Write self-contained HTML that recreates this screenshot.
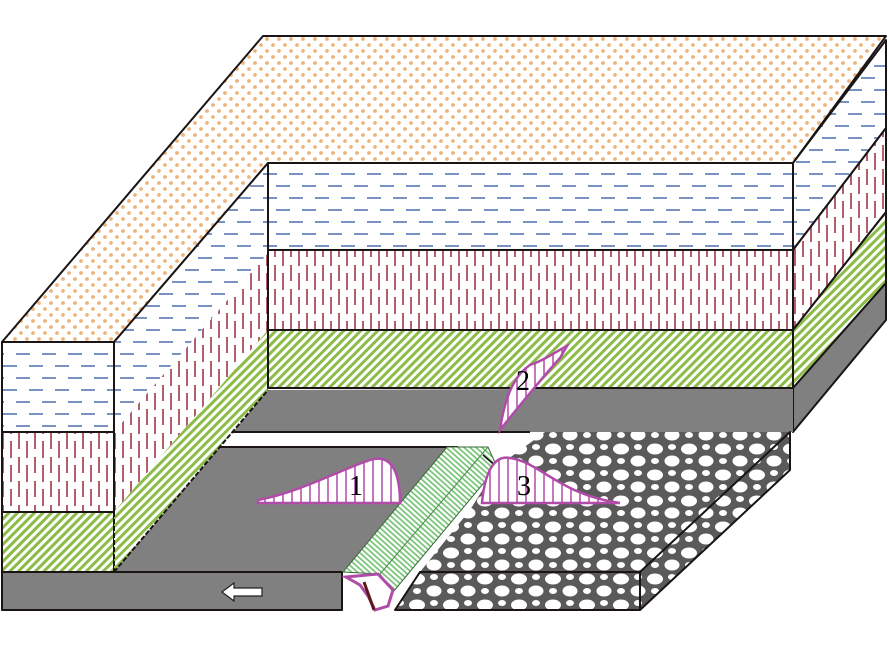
<!DOCTYPE html>
<html><head><meta charset="utf-8"><style>html,body{margin:0;padding:0;background:#fff}svg{display:block}</style></head>
<body>
<svg width="888" height="646" viewBox="0 0 888 646" xmlns="http://www.w3.org/2000/svg">
<defs>
<pattern id="dots" patternUnits="userSpaceOnUse" width="12" height="12">
<rect width="12" height="12" fill="#fff"/>
<circle cx="3" cy="3" r="1.9" fill="#eeb47c"/><circle cx="9" cy="9" r="1.9" fill="#eeb47c"/>
</pattern>
<pattern id="blue" patternUnits="userSpaceOnUse" width="26" height="24">
<rect width="26" height="24" fill="#fff"/>
<g stroke="#7a92c2" stroke-width="2">
<line x1="3" y1="6" x2="17" y2="6"/><line x1="16" y1="18" x2="26" y2="18"/><line x1="0" y1="18" x2="4" y2="18"/></g>
</pattern>
<pattern id="red" patternUnits="userSpaceOnUse" width="16" height="24">
<rect width="16" height="24" fill="#fff"/>
<g stroke="#b0606a" stroke-width="2">
<line x1="3" y1="1" x2="3" y2="17"/><line x1="11" y1="9" x2="11" y2="24"/><line x1="11" y1="0" x2="11" y2="2"/></g>
</pattern>
<pattern id="green" patternUnits="userSpaceOnUse" width="6" height="6" patternTransform="rotate(-45)">
<rect width="6" height="6" fill="#fff"/>
<line x1="0" y1="3" x2="6" y2="3" stroke="#8cbc48" stroke-width="3"/>
</pattern>
<pattern id="gravel" patternUnits="userSpaceOnUse" width="34" height="26">
<rect width="34" height="26" fill="#5a5a5a"/>
<ellipse cx="9" cy="7" rx="8" ry="5.5" fill="#fff"/>
<ellipse cx="26" cy="19" rx="7.5" ry="5.5" fill="#fff"/>
<ellipse cx="-8" cy="19" rx="6" ry="5" fill="#fff"/>
<ellipse cx="42" cy="7" rx="6" ry="5" fill="#fff"/>
<ellipse cx="26" cy="5" rx="4" ry="3" fill="#fff"/>
<ellipse cx="9" cy="19" rx="4" ry="3" fill="#fff"/>
</pattern>
<pattern id="bank" patternUnits="userSpaceOnUse" width="4" height="4" patternTransform="rotate(-48)">
<rect width="4" height="4" fill="#fff"/>
<line x1="2" y1="0" x2="2" y2="4" stroke="#6cbf6c" stroke-width="1.6"/>
</pattern>
<pattern id="prof" patternUnits="userSpaceOnUse" width="9" height="10">
<rect width="9" height="10" fill="#fff"/>
<line x1="4" y1="0" x2="4" y2="10" stroke="#b04ca8" stroke-width="1.5"/>
</pattern>
</defs>

<g stroke="#1a1414" stroke-width="2" stroke-linejoin="round">
<polygon points="2,342 263,36 886,36 793,163 268,163 114,342" fill="url(#dots)"/>
<rect x="2" y="342" width="112" height="90" fill="url(#blue)"/>
<rect x="2" y="432" width="112" height="80" fill="url(#red)"/>
<rect x="2" y="512" width="112" height="60" fill="url(#green)"/>
<polygon points="114,342 268,163 268,253 114,432" fill="url(#blue)" stroke="none"/>
<polygon points="114,432 268,253 268,330 114,512" fill="url(#red)" stroke="none"/>
<polygon points="114,512 268,330 268,390 114,572" fill="url(#green)" stroke="none"/>
<line x1="114" y1="342" x2="268" y2="163"/>
<line x1="114" y1="342" x2="114" y2="512"/>
<line x1="114" y1="512" x2="114" y2="572" stroke-dasharray="5,2"/>
<rect x="268" y="163" width="525" height="87" fill="url(#blue)"/>
<rect x="268" y="250" width="525" height="80" fill="url(#red)"/>
<rect x="268" y="330" width="525" height="58" fill="url(#green)"/>
<polygon points="793,163 886,40 886,128 793,250" fill="url(#blue)"/>
<polygon points="793,250 886,128 886,212 793,330" fill="url(#red)"/>
<polygon points="793,330 886,212 886,283 793,388" fill="url(#green)"/>
<polygon points="793,388 886,283 886,320 793,432" fill="#808080"/>
<polygon points="233,432 268,390 793,388 793,432" fill="#808080" stroke="none"/>
<line x1="268" y1="388" x2="793" y2="388"/>
<polygon points="114,572 220,447 458,447 342,572" fill="#808080" stroke="none"/>
<line x1="233" y1="432" x2="530" y2="432"/>
<line x1="220" y1="447" x2="458" y2="447"/>
<line x1="114" y1="572" x2="268" y2="390" stroke-dasharray="5,2"/>
<rect x="2" y="572" width="340" height="38" fill="#808080"/>
<polygon points="545,432 790,432 640,572 420,572 470,510 497,467" fill="url(#gravel)" stroke="none"/>
<polygon points="640,572 790,432 790,470 640,610" fill="url(#gravel)"/>
<polygon points="395,610 420,572 640,572 640,610" fill="url(#gravel)"/>
<line x1="420" y1="572" x2="640" y2="572"/>
<polygon points="343,572 447,447 488,447 497,467 393,592 380,574" fill="url(#bank)" stroke="#3a6a3a" stroke-width="1"/>
<line x1="380" y1="574" x2="488" y2="447" stroke="#4a8a4a" stroke-width="1"/>
<polygon points="342,574 342,610 390,610 393,592 380,574" fill="#fff" stroke="none"/>
<line x1="342" y1="572" x2="342" y2="610"/>
</g>
<path d="M346,577 L378,574 L393,590 L388,606 L375,610 L368,596 L360,585 Z" fill="none" stroke="#b04ca8" stroke-width="3"/>
<line x1="364" y1="582" x2="374" y2="610" stroke="#5a1a1a" stroke-width="3"/>
<line x1="483" y1="455" x2="498" y2="468" stroke="#111" stroke-width="1.5"/>
<polygon points="222,592 234,583 234,588 262,588 262,596 234,596 234,601" fill="#fff" stroke="#222" stroke-width="1.2"/>
<path d="M258,500 C300,492 340,470 370,460 C395,452 400,480 400,503 L258,503 Z" fill="url(#prof)" stroke="#b04ca8" stroke-width="2.5"/>
<text x="349" y="495" font-family="Liberation Serif, serif" font-size="28" fill="#000">1</text>
<path d="M500,430 C505,395 515,375 530,365 C545,360 555,352 567,346 L560,358 C540,380 520,405 500,430 Z" fill="url(#prof)" stroke="#b04ca8" stroke-width="2.5"/>
<text x="516" y="390" font-family="Liberation Serif, serif" font-size="28" fill="#000">2</text>
<path d="M482,503 C485,470 495,455 510,458 C540,462 560,495 620,503 Z" fill="url(#prof)" stroke="#b04ca8" stroke-width="2.5"/>
<text x="517" y="495" font-family="Liberation Serif, serif" font-size="28" fill="#000">3</text>
</svg>
</body></html>
